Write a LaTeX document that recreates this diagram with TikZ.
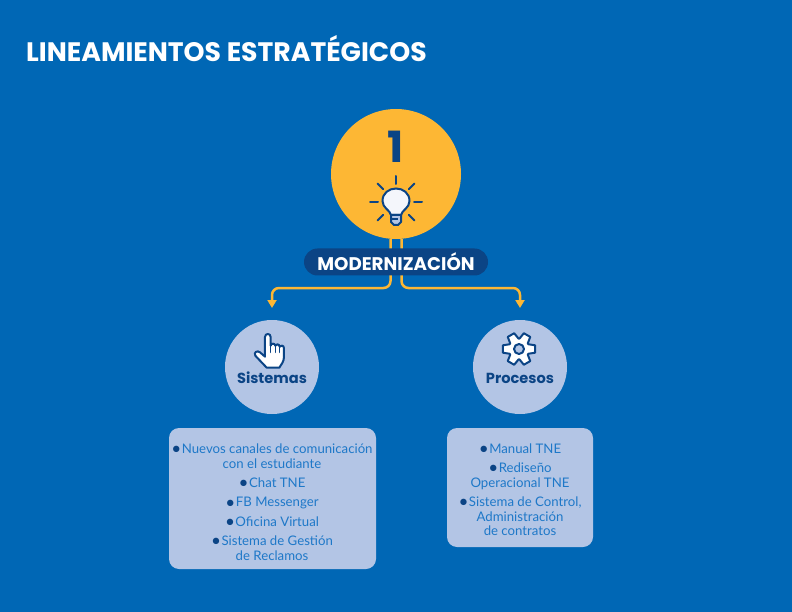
\documentclass[tikz,border=0pt]{standalone}
\usepackage{fontspec}
\setmainfont{Lato}
\newfontfamily\headFont{Poppins}
\usepackage{tikz}
\usetikzlibrary{arrows.meta}
\definecolor{bgBlue}{HTML}{0067B5}
\definecolor{darkBlue}{HTML}{0B4485}
\definecolor{textBlue}{HTML}{1E78C8}
\definecolor{paleBlue}{HTML}{B3C5E5}
\definecolor{sunOrange}{HTML}{FDB734}
\newcommand{\bul}{{\color{darkBlue}\raisebox{-1.3pt}{\scalebox{1.3}{\textbullet}}}\hspace{0.5pt}}
\tikzset{
  mainCircle/.style={circle,fill=sunOrange,minimum size=130pt,inner sep=0pt},
  subCircle/.style={circle,fill=paleBlue,minimum size=94pt,inner sep=0pt},
  listBox/.style={fill=paleBlue,rounded corners=10pt,inner sep=0pt},
  listItem/.style={text=textBlue,align=center,font=\fontsize{13.2}{14.7}\selectfont,inner sep=0pt,yshift=-2.5pt,execute at begin node=\strut,execute at end node=\strut},
  subLabel/.style={text=darkBlue,font=\headFont\bfseries\fontsize{14.6}{16}\selectfont,inner sep=0pt},
  flowLine/.style={draw=sunOrange,line width=2.5pt,rounded corners=7pt},
  iconLine/.style={draw=darkBlue,line width=2pt,line join=round,line cap=round}
}
\begin{document}
\begin{tikzpicture}[x=1pt,y=-1pt]
  \useasboundingbox (0,0) rectangle (792,612);
  \fill[bgBlue] (0,0) rectangle (792,612);
  \node (title) [anchor=base west,text=white,inner sep=0pt,font=\headFont\bfseries\fontsize{26.7}{30}\selectfont] at (26,62) {LINEAMIENTOS ESTRATÉGICOS};
  \node (mainC) [mainCircle] at (396,174) {};
  \node (numOne) [text=darkBlue,inner sep=0pt,font=\headFont\bfseries\fontsize{43}{45}\selectfont] at (396,147) {1};
  \node (subA) [subCircle] at (272,367) {};
  \node (subB) [subCircle] at (520,367) {};
  \coordinate (tipA) at (272,308);
  \coordinate (tipB) at (520,308);
  \coordinate (railA) at (330,288);
  \coordinate (railB) at (460,288);
  % connectors run under the pill
  \draw[flowLine,-{Triangle[length=8pt,width=9pt]}] ([xshift=-5.5pt]mainC.south) |- (railA) -| (tipA);
  \draw[flowLine,-{Triangle[length=8pt,width=9pt]}] ([xshift=5.5pt]mainC.south) |- (railB) -| (tipB);
  \node (pill) [fill=darkBlue,rounded corners=13.5pt,minimum width=184pt,minimum height=27pt,inner sep=0pt,text=white,font=\headFont\bfseries\fontsize{18.3}{20}\selectfont] at (396,262) {MODERNIZACIÓN};
  \node (labelA) [subLabel] at (272,378) {Sistemas};
  \node (labelB) [subLabel] at (520,378) {Procesos};
  \node (boxA) [listBox,minimum width=207pt,minimum height=141pt] at (272.5,498.5) {};
  \node (boxB) [listBox,minimum width=146pt,minimum height=119pt] at (520,487.5) {};
  \node (itemA1) [listItem] at (272,455.5) {\bul Nuevos canales de comunicación\\con el estudiante};
  \node (itemA2) [listItem] at (272,482) {\bul Chat TNE};
  \node (itemA3) [listItem] at (272,501.5) {\bul FB Messenger};
  \node (itemA4) [listItem] at (272,521) {\bul Oficina Virtual};
  \node (itemA5) [listItem] at (272,547.5) {\bul Sistema de Gestión\\de Reclamos};
  \node (itemB1) [listItem] at (520,448) {\bul Manual TNE};
  \node (itemB2) [listItem] at (520,474.5) {\bul Rediseño\\Operacional TNE};
  \node (itemB3) [listItem] at (520,516) {\bul Sistema de Control,\\Administración\\de contratos};
  % bulb
  \begin{scope}[shift={(396,202)}]
    \foreach \ang in {0,45,135,180,225,270,315}
      \draw[iconLine] (\ang:18) -- (\ang:26);
    \fill[white!85!paleBlue,draw=darkBlue,line width=2pt] (-5,13) .. controls (-6,8) and (-13.5,6) .. (-13.5,-1) .. controls (-13.5,-9) and (-7,-13.5) .. (0,-13.5) .. controls (7,-13.5) and (13.5,-9) .. (13.5,-1) .. controls (13.5,6) and (6,8) .. (5,13) -- cycle;
    \fill[paleBlue,draw=darkBlue,line width=2pt,line join=round] (-5,13) -- (5,13) -- (5,20) -- (2,23) -- (-2,23) -- (-5,20) -- cycle;
    \draw[darkBlue,line width=1.4pt] (-5,17) -- (2,17);
  \end{scope}
  % hand
  \begin{scope}[shift={(220,315)},x=0.3333pt,y=-0.3333pt]
    \fill[white,iconLine] (135,112) -- (135,66) .. controls (135,54) and (152,54) .. (152,66) -- (152,92) .. controls (153,84) and (165,84) .. (166,92) .. controls (167,86) and (178,86) .. (179,95) .. controls (181,90) and (192,90) .. (192,100) -- (192,125) .. controls (192,140) and (184,148) .. (178,158) -- (140,158) .. controls (128,145) and (115,132) .. (106,122) .. controls (100,112) and (112,105) .. (120,112) -- (135,125) -- cycle;
    \draw[iconLine,line width=1.4pt] (152,92) -- (152,112) (166,92) -- (166,112) (179,95) -- (179,112);
  \end{scope}
  % gear
  \begin{scope}[shift={(519,349)}]
    \fill[white,iconLine] (-27:10.5) \foreach \ang in {0,60,...,300} { -- (\ang-27:10.5) -- (\ang-13:16.5) -- (\ang+13:16.5) -- (\ang+27:10.5)} -- cycle;
    \draw[iconLine,fill=paleBlue] (0,0) circle (5);
  \end{scope}
\end{tikzpicture}
\end{document}
